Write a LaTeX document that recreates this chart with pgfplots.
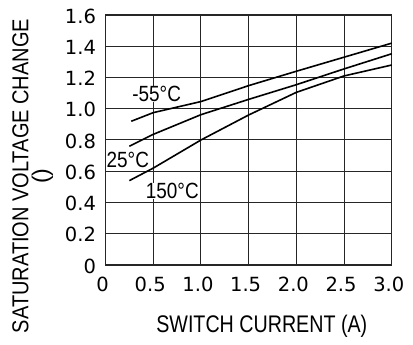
\documentclass[border=0pt]{standalone}
\usepackage{fontspec}
\setmainfont{Liberation Sans}
\newfontfamily\tickfont{DejaVu Sans}
\usepackage{pgfplots}
\pgfplotsset{compat=1.18}
\usetikzlibrary{calc}
\newcommand{\cl}[1]{\scalebox{0.86}[1]{#1}}
\begin{document}
\begin{tikzpicture}
\begin{axis}[name=ax, scale only axis, width=286.3bp, height=250bp,
  xmin=0, xmax=3, ymin=0, ymax=1.6,
  xtick={0,0.5,1,1.5,2,2.5,3},
  ytick={0,0.2,0.4,0.6,0.8,1.0,1.2,1.4,1.6},
  xticklabels={0,0.5,1.0,1.5,2.0,2.5,3.0},
  yticklabels={0,0.2,0.4,0.6,0.8,1.0,1.2,1.4,1.6},
  grid=major, major grid style={black!85, line width=1bp},
  axis line style={black!85, line width=1.2bp},
  major tick length=0pt,
  tick label style={font=\tickfont\fontsize{19.5bp}{21bp}\selectfont},
  xticklabel style={xshift=-3bp, yshift=-9bp},
  yticklabel style={xshift=-6bp, yshift=-1bp},
  xlabel={\scalebox{0.82}[1]{SWITCH CURRENT (A)}},
  xlabel style={font=\fontsize{24bp}{26bp}\selectfont, at={(axis description cs:0.546,-0.247)}, anchor=center},
  ylabel={\scalebox{0.87}[1]{SATURATION VOLTAGE CHANGE}\\()},
  ylabel style={font=\fontsize{23bp}{20bp}\selectfont, align=center, at={(axis description cs:-0.254,0.356)}, anchor=center},
  clip=false,
]
\addplot[black, line width=1.6bp, no marks] coordinates {(0.27,0.92) (0.5,0.975) (1.0,1.046) (1.5,1.148) (2.0,1.24) (2.5,1.33) (3.0,1.42)};
\addplot[black, line width=1.6bp, no marks] coordinates {(0.25,0.76) (0.5,0.836) (1.0,0.962) (1.5,1.06) (2.0,1.154) (2.5,1.255) (3.0,1.352)};
\addplot[black, line width=1.6bp, no marks] coordinates {(0.25,0.54) (0.5,0.62) (1.0,0.80) (1.5,0.96) (2.0,1.105) (2.5,1.21) (3.0,1.28)};
\node[font=\fontsize{22bp}{24bp}\selectfont, inner sep=0pt, fill=white] at (axis cs:0.536,1.095) {\cl{-55°C}};
\node[font=\fontsize{22bp}{24bp}\selectfont, inner sep=0pt, fill=white] at (axis cs:0.234,0.675) {\cl{25°C}};
\node[font=\fontsize{22bp}{24bp}\selectfont, inner sep=0pt, fill=white] at (axis cs:0.70,0.473) {\cl{150°C}};
\end{axis}
\path[use as bounding box] ($(ax.south west)+(-105.5bp,-80bp)$) rectangle ($(ax.north east)+(21.2bp,15bp)$);
\end{tikzpicture}
\end{document}
